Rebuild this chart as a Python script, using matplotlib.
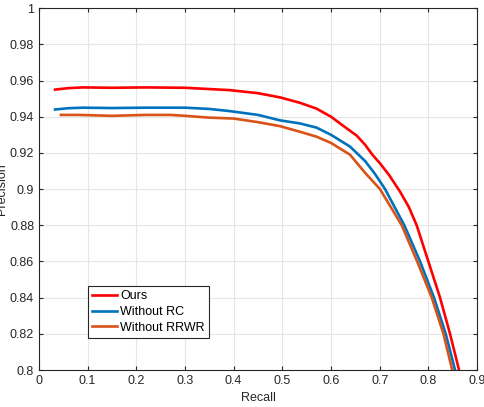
import numpy as np
import matplotlib
matplotlib.use("Agg")
import matplotlib.pyplot as plt

plt.rcParams['font.family'] = ['Liberation Sans', 'DejaVu Sans']

# PR curves
ours_recall = [0.033, 0.06, 0.09, 0.15, 0.22, 0.30, 0.35, 0.392, 0.45, 0.495, 0.536, 0.57, 0.60,
               0.625, 0.653, 0.670, 0.685, 0.7007, 0.720, 0.742, 0.760, 0.776, 0.800, 0.824, 0.8445, 0.863]
ours_prec = [0.955, 0.9558, 0.9562, 0.956, 0.9562, 0.956, 0.9553, 0.9547, 0.953, 0.9507, 0.9477, 0.9445, 0.940,
             0.935, 0.9295, 0.9245, 0.919, 0.9142, 0.9075, 0.8985, 0.890, 0.880, 0.860, 0.840, 0.820, 0.800]

rc_recall = [0.033, 0.06, 0.09, 0.15, 0.22, 0.30, 0.35, 0.392, 0.45, 0.495, 0.536, 0.57, 0.60,
             0.639, 0.670, 0.690, 0.711, 0.7506, 0.783, 0.8116, 0.8357, 0.8548]
rc_prec = [0.944, 0.9447, 0.945, 0.9448, 0.945, 0.945, 0.9443, 0.9431, 0.941, 0.938, 0.9363, 0.934, 0.930,
           0.9235, 0.9155, 0.9085, 0.900, 0.880, 0.860, 0.840, 0.820, 0.800]

rrwr_recall = [0.045, 0.08, 0.15, 0.22, 0.27, 0.30, 0.35, 0.40, 0.45, 0.495, 0.536, 0.57, 0.60,
               0.639, 0.670, 0.7006, 0.7453, 0.777, 0.807, 0.831, 0.849]
rrwr_prec = [0.941, 0.941, 0.9405, 0.941, 0.941, 0.9405, 0.9395, 0.939, 0.937, 0.9348, 0.9317, 0.929, 0.9255,
             0.919, 0.909, 0.900, 0.880, 0.860, 0.840, 0.820, 0.800]

xticks = np.arange(0, 0.91, 0.1)
yticks = np.arange(0.8, 1.001, 0.02)

fig = plt.figure(figsize=(4.84, 4.07), dpi=100)
ax = fig.add_axes([0.0806, 0.0909, 0.905, 0.889])

ax.plot(ours_recall, ours_prec, color='#ff0000', lw=1.9, label='Ours')
ax.plot(rc_recall, rc_prec, color='#0072bd', lw=1.9, label='Without RC')
ax.plot(rrwr_recall, rrwr_prec, color='#d95319', lw=1.9, label='Without RRWR')

ax.set_xlim(0, 0.9)
ax.set_ylim(0.8, 1.0)
ax.set_xticks(xticks)
ax.set_yticks(yticks)
ax.set_xticklabels(['0', '0.1', '0.2', '0.3', '0.4', '0.5', '0.6', '0.7', '0.8', '0.9'])
ax.set_yticklabels(['0.8', '0.82', '0.84', '0.86', '0.88', '0.9', '0.92', '0.94', '0.96', '0.98', '1'])
ax.grid(True, color='#e6e6e6', lw=0.8)
ax.set_axisbelow(True)
ax.tick_params(direction='in', top=True, right=True, labelsize=9, colors='#262626', length=3)
for s in ax.spines.values():
    s.set_color('#262626')
    s.set_linewidth(0.8)

ax.set_xlabel('Recall', fontsize=9, color='#262626', labelpad=4)
ax.set_ylabel('Precision', fontsize=9, color='#262626', labelpad=1)

leg = ax.legend(loc='lower left', bbox_to_anchor=(0.111, 0.088), fontsize=9,
                fancybox=False, framealpha=1, edgecolor='#262626',
                handlelength=2.0, handletextpad=0.25, borderpad=0.35,
                labelspacing=0.3, borderaxespad=0)
leg.get_frame().set_linewidth(0.8)

fig.savefig('out.png', dpi=100)
